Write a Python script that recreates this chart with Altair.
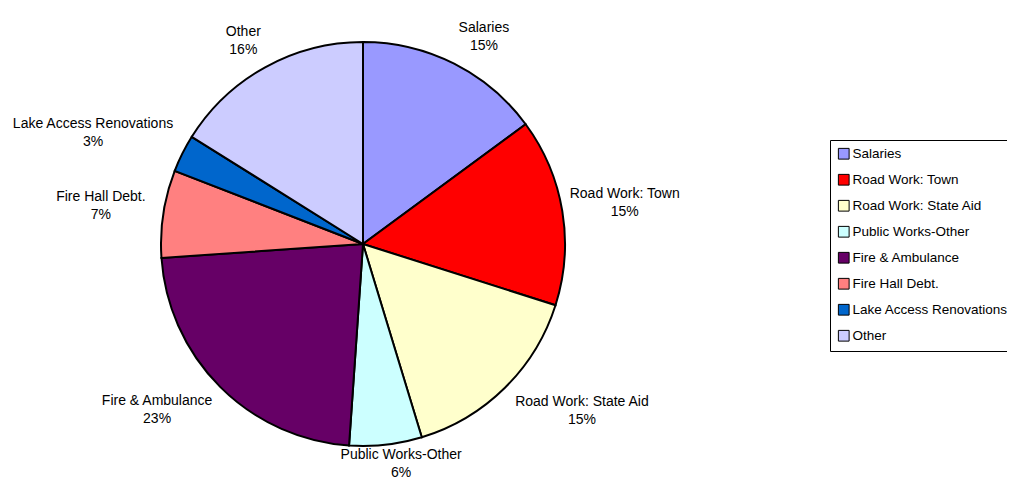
import altair as alt
import pandas as pd

categories = ["Salaries", "Road Work: Town", "Road Work: State Aid", "Public Works-Other",
              "Fire & Ambulance", "Fire Hall Debt.", "Lake Access Renovations", "Other"]
shares = [14.9, 15.0, 15.4, 5.8, 22.8, 7.0, 3.0, 16.1]
colors = ["#9999FF", "#FF0000", "#FFFFCC", "#CCFFFF", "#660066", "#FF8080", "#0066CC", "#CCCCFF"]

df = pd.DataFrame({"cat": categories, "value": shares, "order": list(range(len(categories)))})

CX, CY, R = 355, 236, 202
FONT = "Liberation Sans"

base = alt.Chart(df)

pie = base.mark_arc(outerRadius=R, stroke="black", strokeWidth=2).encode(
    theta=alt.Theta("value:Q", stack=True),
    order=alt.Order("order:Q"),
    color=alt.Color(
        "cat:N",
        scale=alt.Scale(domain=categories, range=colors),
        legend=alt.Legend(
            title=None, orient="none", legendX=822, legendY=132,
            strokeColor="black", fillColor="white", padding=7,
            symbolType="square", symbolSize=115, symbolStrokeColor="black",
            symbolStrokeWidth=1, symbolOpacity=1,
            labelFont=FONT, labelFontSize=13.5, labelColor="black",
            labelOffset=2, rowPadding=10, labelLimit=400,
        ),
    ),
    x=alt.value(CX),
    y=alt.value(CY),
)

lab = base.transform_joinaggregate(total="sum(value)").transform_window(
    cum="sum(value)", sort=[alt.SortField("order")], frame=[None, 0]
).transform_calculate(
    mid="(datum.cum - datum.value/2) / datum.total * 2 * PI",
).transform_calculate(
    s="sin(datum.mid)", c="cos(datum.mid)", w="length(datum.cat) * 7.0",
).transform_calculate(
    lx=f"{CX} + {R + 10} * datum.s + clamp(2 * datum.s, -1, 1) * datum.w / 2",
    ly=f"min({CY} - {R + 10} * datum.c - clamp(2 * datum.c, -1, 1) * 17, 457)",
    pct="format(datum.value / datum.total, '.0%')",
)

name_txt = lab.mark_text(font=FONT, fontSize=14, color="black", baseline="middle", dy=-10).encode(
    x=alt.X("lx:Q", scale=None), y=alt.Y("ly:Q", scale=None), text="cat:N"
)
pct_txt = lab.mark_text(font=FONT, fontSize=14, color="black", baseline="middle", dy=8).encode(
    x=alt.X("lx:Q", scale=None), y=alt.Y("ly:Q", scale=None), text="pct:N"
)

chart = alt.layer(pie, name_txt, pct_txt).properties(
    width=999, height=472, padding=0,
    autosize=alt.AutoSizeParams(type="none"),
    background="white",
).configure_view(stroke="transparent")

chart.save("out.html", embed_options={"renderer": "svg", "actions": False})
